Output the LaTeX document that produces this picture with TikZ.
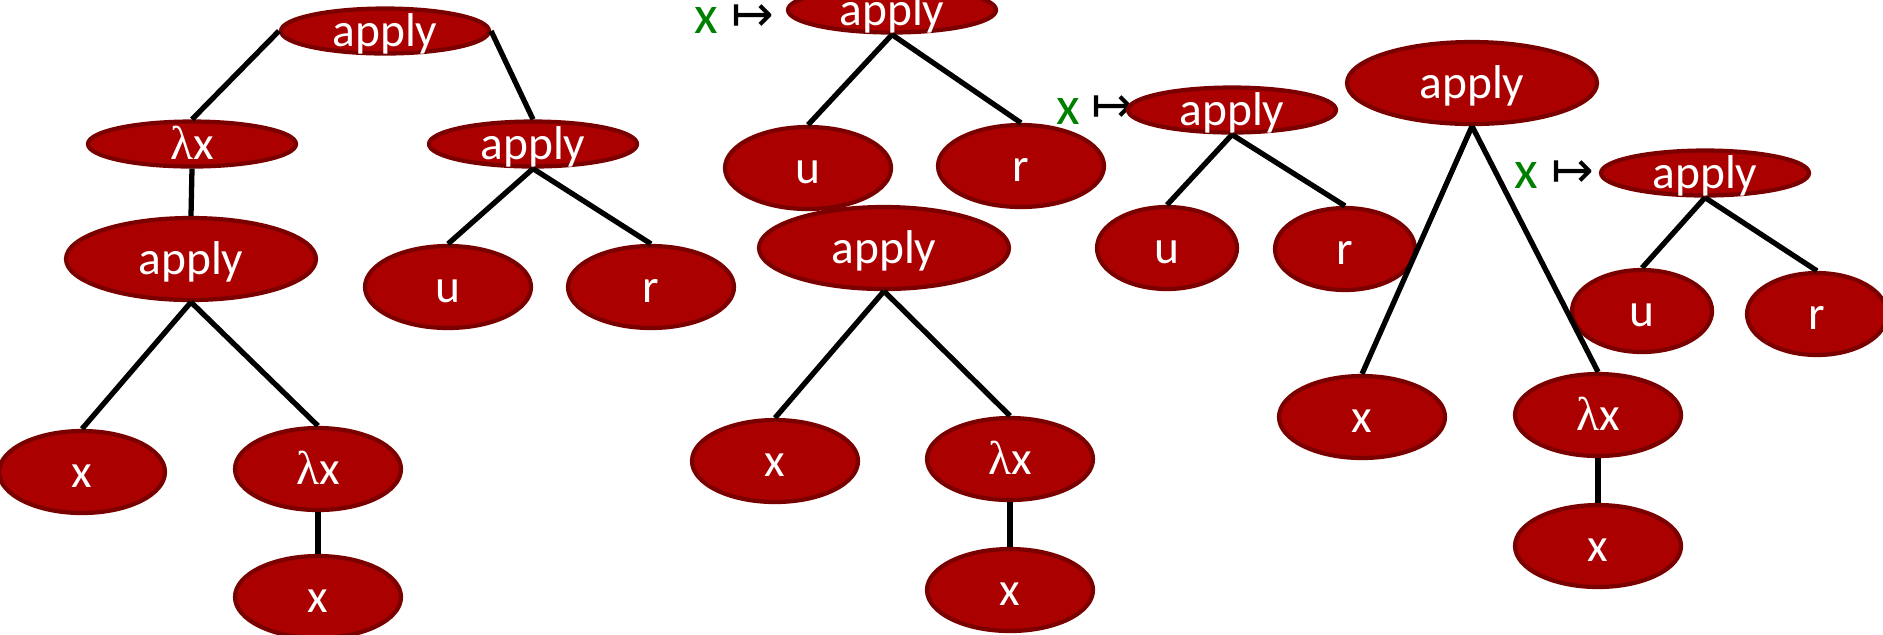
\documentclass[tikz,border=0pt]{standalone}
\usepackage{fontspec}
\setmainfont{Carlito}
\newfontfamily\lamfont{Liberation Serif}
\newfontfamily\arrfont{DejaVu Sans}
\usetikzlibrary{shapes.geometric}

\definecolor{nodefill}{RGB}{170,0,0}
\definecolor{nodeedge}{RGB}{122,0,0}
\definecolor{xgreen}{RGB}{0,128,0}
\newcommand{\lam}{{\lamfont λ}}

\tikzset{
  tnode/.style={ellipse, draw=nodeedge, fill=nodefill, line width=1.2pt, text=white,
    inner sep=0pt, text height=3mm, text depth=0pt, font=\fontsize{13.5}{16}\selectfont},
  app/.style={tnode, minimum width=2.08cm, minimum height=0.45cm},
  bigapp/.style={tnode, minimum width=2.5cm, minimum height=0.82cm},
  leaf/.style={tnode, minimum width=1.66cm, minimum height=0.82cm},
  smleaf/.style={tnode, minimum width=1.40cm, minimum height=0.82cm},
  var/.style={text=xgreen, inner sep=0pt, font=\fontsize{15.5}{18}\selectfont},
  maps/.style={inner sep=0pt, font=\arrfont\fontsize{14.5}{17}\selectfont},
  branch/.style={line width=1.5pt}
}

\begin{document}
\begin{tikzpicture}
  \useasboundingbox (0,0) rectangle (18.83,-6.34);

  % first term
  \node[name=a1, app] at (3.85,-0.31) {apply};
  \node[name=l1, app] at (1.92,-1.44) {\lam x};
  \node[name=a2, app] at (5.33,-1.44) {apply};
  \node[name=a3, bigapp] at (1.91,-2.59) {apply};
  \node[name=u1, leaf] at (4.48,-2.87) {u};
  \node[name=r1, leaf] at (6.51,-2.87) {r};
  \node[name=x1, leaf] at (0.82,-4.72) {x};
  \node[name=l2, leaf] at (3.18,-4.69) {\lam x};
  \node[name=x2, leaf] at (3.18,-5.97) {x};

  \draw[branch] (a1.west) -- (l1.north);
  \draw[branch] (a1.east) -- (a2.north);
  \draw[branch] (l1.south) -- (a3.north);
  \draw[branch] (a3.south) -- (x1.north);
  \draw[branch] (a3.south) -- (l2.north);
  \draw[branch] (a2.south) -- (u1.north);
  \draw[branch] (a2.south) -- (r1.north);
  \draw[branch] (l2.south) -- (x2.north);

  % substitution, top part
  \node[name=v1, var] at (7.06,-0.20) {x};
  \node[name=m1, maps] at (7.53,-0.18) {↦};
  \node[name=b1, app] at (8.92,-0.10) {apply};
  \node[name=u2, leaf] at (8.08,-1.68) {u};
  \node[name=r2, leaf] at (10.21,-1.66) {r};

  \draw[branch] (b1.south) -- (u2.north);
  \draw[branch] (b1.south) -- (r2.north);

  % substitution, bottom part
  \node[name=b2, bigapp] at (8.84,-2.48) {apply};
  \node[name=x3, leaf] at (7.75,-4.61) {x};
  \node[name=l3, leaf] at (10.10,-4.59) {\lam x};
  \node[name=x4, leaf] at (10.10,-5.90) {x};

  \draw[branch] (b2.south) -- (x3.north);
  \draw[branch] (b2.south) -- (l3.north);
  \draw[branch] (l3.south) -- (x4.north);

  % environment entry
  \node[name=v2, var] at (10.68,-1.11) {x};
  \node[name=m2, maps] at (11.13,-1.09) {↦};
  \node[name=c1, app] at (12.32,-1.10) {apply};
  \node[name=u3, smleaf] at (11.67,-2.48) {u};
  \node[name=r3, smleaf] at (13.45,-2.49) {r};

  \draw[branch] (c1.south) -- (u3.north);
  \draw[branch] (c1.south) -- (r3.north);

  % closure
  \node[name=d1, bigapp] at (14.72,-0.83) {apply};
  \node[name=x5, leaf] at (13.62,-4.17) {x};
  \node[name=l4, leaf] at (15.98,-4.15) {\lam x};
  \node[name=x6, leaf] at (15.98,-5.46) {x};
  \node[name=v3, var] at (15.26,-1.75) {x};
  \node[name=m3, maps] at (15.73,-1.74) {↦};
  \node[name=d2, app] at (17.05,-1.73) {apply};
  \node[name=u4, smleaf] at (16.42,-3.11) {u};
  \node[name=r4, smleaf] at (18.17,-3.14) {r};

  \draw[branch] (d1.south) -- (x5.north);
  \draw[branch] (d1.south) -- (l4.north);
  \draw[branch] (l4.south) -- (x6.north);
  \draw[branch] (d2.south) -- (u4.north);
  \draw[branch] (d2.south) -- (r4.north);
\end{tikzpicture}
\end{document}
